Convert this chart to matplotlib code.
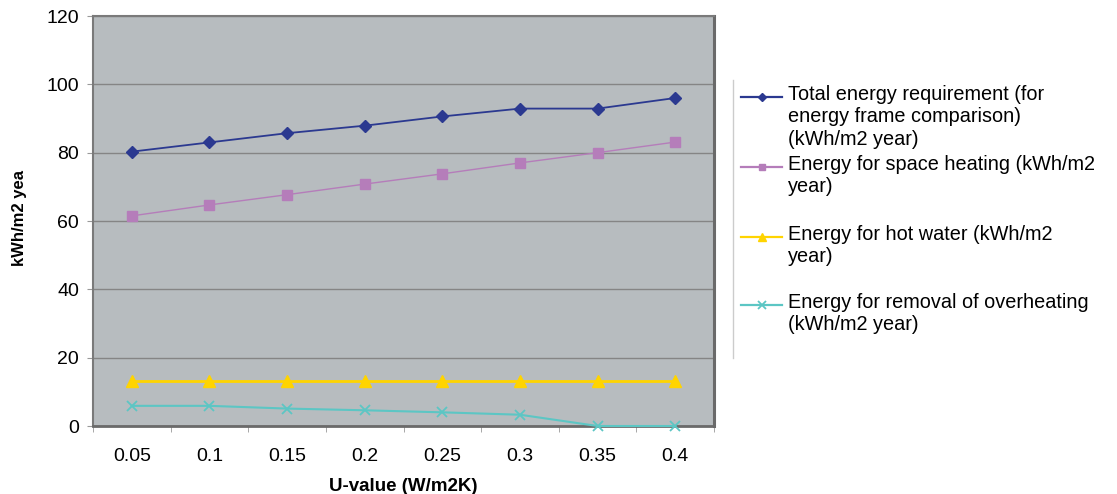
import matplotlib
matplotlib.use("Agg")
import matplotlib.pyplot as plt
from matplotlib.lines import Line2D
from matplotlib.transforms import Bbox
import numpy as np

plt.rcParams['font.family'] = ['Liberation Sans', 'DejaVu Sans']

categories = ["0.05", "0.1", "0.15", "0.2", "0.25", "0.3", "0.35", "0.4"]
total = [80.3, 83.0, 85.7, 87.9, 90.6, 92.9, 92.9, 96.0]
heating = [61.5, 64.7, 67.7, 70.8, 73.8, 77.0, 80.0, 83.1]
hot_water = [13.2, 13.2, 13.2, 13.2, 13.2, 13.2, 13.2, 13.2]
overheating = [5.9, 5.9, 5.1, 4.6, 4.0, 3.3, 0.0, 0.0]
labels = [
    "Total energy requirement (for\nenergy frame comparison)\n(kWh/m2 year)",
    "Energy for space heating (kWh/m2\nyear)",
    "Energy for hot water (kWh/m2\nyear)",
    "Energy for removal of overheating\n(kWh/m2 year)",
]

W, H = 1117, 494
fig = plt.figure(figsize=(W / 100, H / 100), dpi=100)
ax = fig.add_axes([93 / W, (H - 426) / H, (714 - 93) / W, (426 - 16) / H])
ax.set_facecolor('#b7bcbf')

x = np.arange(len(categories))
styles = [
    dict(color='#2b3990', marker='D', markersize=6, lw=1.3),
    dict(color='#b57dba', marker='s', markersize=6.5, lw=1.0),
    dict(color='#ffd400', marker='^', markersize=8, lw=2.0),
    dict(color='#5cc6c4', marker='x', markersize=7, lw=1.5, mew=1.3),
]
series = [total, heating, hot_water, overheating]
for s, st in zip(series, styles):
    ax.plot(x, s, clip_on=False, zorder=3, **st)

ax.set_xlim(-0.5, len(categories) - 0.5)
ax.set_ylim(0, 120)
ax.set_yticks(np.arange(0, 121, 20))
ax.set_xticks(x)
ax.set_xticklabels(categories)
ax.set_xticks(np.arange(-0.5, len(categories), 1.0), minor=True)
ax.tick_params(axis='x', which='major', length=0, labelsize=14, pad=16)
ax.tick_params(axis='x', which='minor', length=4, color='#999999', direction='out')
ax.tick_params(axis='y', length=4, color='#999999', labelsize=14, pad=6)
ax.grid(axis='y', color='#858585', lw=1.0)
ax.set_axisbelow(True)
for sp in ax.spines.values():
    sp.set_color('#7a7a7a')
    sp.set_linewidth(1.5)
ax.spines['right'].set_color('#6a6a6a')
ax.spines['right'].set_linewidth(2.2)
ax.spines['bottom'].set_color('#6a6a6a')
ax.spines['bottom'].set_linewidth(2.0)

ax.set_xlabel("U-value (W/m2K)", fontsize=13.5, fontweight='bold', labelpad=9)

yl = fig.text(20 / W, (H - 215) / H, "kWh/m2 year", rotation=90, fontsize=12,
              fontweight='bold', ha='center', va='center')
yl.set_clip_box(Bbox.from_extents(0, 0, 60, H - 170))
yl.set_clip_on(True)

# legend
fig.add_artist(Line2D([733 / W, 733 / W], [(H - 80) / H, (H - 358) / H],
                      color='#cccccc', lw=1.0))
ys = [97, 167, 237, 305]
for yy, lab, st in zip(ys, labels, styles):
    st2 = dict(st)
    st2['markersize'] = st['markersize'] * 0.75
    st2['lw'] = 1.6
    fig.add_artist(Line2D([741 / W, 761.5 / W, 782 / W], [(H - yy) / H] * 3,
                          markevery=[1], **st2))
    fig.text(788 / W, (H - yy + 12) / H, lab, fontsize=14.3, va='top',
             ha='left', linespacing=1.22)

fig.savefig("out.png", dpi=100)
